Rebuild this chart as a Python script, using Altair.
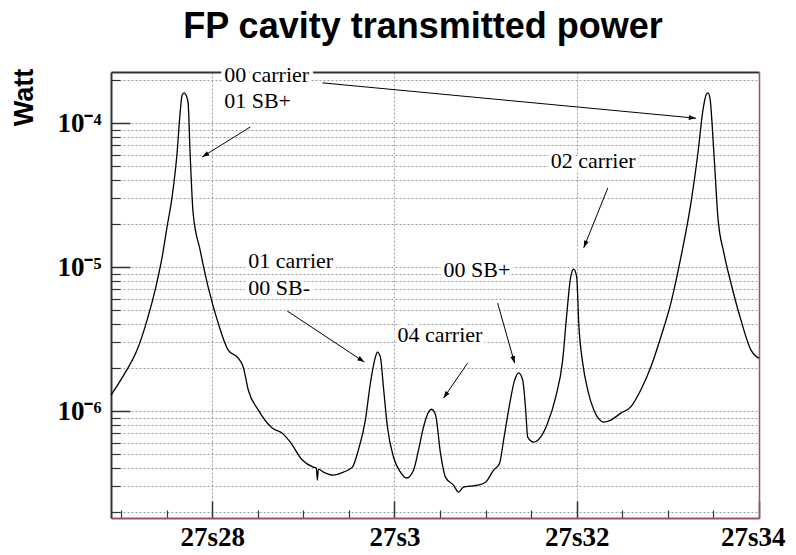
import altair as alt
import pandas as pd

# ---- spectrum (time in s after 27 min, power in W) ----
t_s = [26.89, 27.044, 27.176, 27.286, 27.374, 27.451, 27.505, 27.560, 27.615, 27.648,
       27.670, 27.692, 27.714, 27.736, 27.758, 27.791, 27.868, 27.956, 28.066, 28.176,
       28.286, 28.341, 28.396, 28.505, 28.659, 28.769, 28.857, 28.989, 29.110, 29.143,
       29.154, 29.165, 29.220, 29.330, 29.440, 29.538, 29.604, 29.681, 29.736, 29.791,
       29.813, 29.846, 29.879, 29.923, 29.989, 30.066, 30.132, 30.209, 30.264, 30.319,
       30.374, 30.407, 30.451, 30.505, 30.560, 30.648, 30.703, 30.758, 30.835, 30.912,
       31.000, 31.088, 31.154, 31.198, 31.253, 31.319, 31.363, 31.407, 31.440, 31.462,
       31.527, 31.604, 31.681, 31.769, 31.846, 31.890, 31.934, 31.967, 32.000, 32.022,
       32.066, 32.121, 32.187, 32.297, 32.374, 32.484, 32.593, 32.703, 32.813, 32.923,
       33.033, 33.143, 33.253, 33.330, 33.385, 33.418, 33.440, 33.462, 33.505, 33.549,
       33.615, 33.692, 33.802, 33.912, 33.978, 34.0]
power_w = [1.29e-6, 1.84e-6, 2.65e-6, 4.28e-6, 6.92e-6, 1.17e-5, 1.90e-5, 3.06e-5, 6.19e-5, 1.17e-4,
           1.56e-4, 1.62e-4, 1.56e-4, 1.38e-4, 6.19e-5, 2.37e-5, 1.31e-5, 7.26e-6, 4.08e-6, 2.65e-6,
           2.33e-6, 2.02e-6, 1.40e-6, 1.02e-6, 7.62e-7, 7.03e-7, 6.09e-7, 4.57e-7, 4.08e-7, 4.02e-7,
           3.32e-7, 3.95e-7, 3.77e-7, 3.59e-7, 3.77e-7, 4.08e-7, 5.36e-7, 8.66e-7, 1.56e-6, 2.37e-6,
           2.57e-6, 2.37e-6, 1.47e-6, 7.75e-7, 4.80e-7, 3.77e-7, 3.43e-7, 3.89e-7, 5.36e-7, 7.75e-7,
           9.84e-7, 1.03e-6, 9.38e-7, 5.11e-7, 3.48e-7, 3.06e-7, 2.74e-7, 2.96e-7, 3.01e-7, 3.06e-7,
           3.21e-7, 3.89e-7, 4.35e-7, 6.30e-7, 1.02e-6, 1.64e-6, 1.84e-6, 1.64e-6, 1.02e-6, 6.59e-7,
           6.09e-7, 6.59e-7, 8.26e-7, 1.25e-6, 2.26e-6, 4.64e-6, 8.53e-6, 9.68e-6, 8.53e-6, 4.08e-6,
           2.15e-6, 1.40e-6, 1.02e-6, 8.39e-7, 8.66e-7, 9.68e-7, 1.07e-6, 1.40e-6, 2.02e-6, 3.27e-6,
           5.62e-6, 1.17e-5, 2.78e-5, 6.19e-5, 1.23e-4, 1.56e-4, 1.62e-4, 1.49e-4, 6.19e-5, 2.22e-5,
           1.25e-5, 7.75e-6, 4.28e-6, 2.65e-6, 2.37e-6, 2.33e-6]

# ---- annotations ----
label_text = ["00 carrier", "01 SB+", "01 carrier", "00 SB-", "04 carrier", "00 SB+", "02 carrier"]
label_t = [28.132, 28.132, 28.396, 28.396, 30.033, 30.538, 31.714]
label_p = [1.93e-4, 1.27e-4, 9.84e-6, 6.39e-6, 3.01e-6, 8.53e-6, 4.87e-5]

arrow_t0 = [29.209, 28.418, 28.824, 30.802, 31.132, 32.341]
arrow_p0 = [1.90e-4, 9.38e-5, 4.95e-6, 2.15e-6, 5.62e-6, 3.54e-5]
arrow_t1 = [33.308, 27.890, 29.670, 30.538, 31.319, 32.077]
arrow_p1 = [1.08e-4, 5.81e-5, 2.19e-6, 1.23e-6, 2.15e-6, 1.36e-5]

# ---- ticks ----
x_major = [28, 30, 32, 34]
x_major_labels = ["27s28", "27s3", "27s32", "27s34"]
x_grid = [28, 30, 32]
x_minor = [27, 27.5, 28.5, 29, 29.5, 30.5, 31, 31.5, 32.5, 33, 33.5]
y_decades = [1e-6, 1e-5, 1e-4]
y_decade_labels = ["10\u207b\u2076", "10\u207b\u2075", "10\u207b\u2074"]
y_mantissas = [2, 3, 4, 5, 6, 7, 8, 9]
y_minor = ([m * 1e-7 for m in y_mantissas] + [m * 1e-6 for m in y_mantissas]
           + [m * 1e-5 for m in y_mantissas] + [2e-4])
y_grid = sorted(y_minor + y_decades)

SERIF = "Liberation Serif"
SANS = "Liberation Sans"
GRID = "#9a9a9a"
DARK = "#333333"
RED = "#a0505a"

xs = alt.Scale(domain=[26.89, 34.0], nice=False, zero=False)
ys = alt.Scale(type="log", domain=[1.81e-7, 2.26e-4], nice=False)

curve_df = pd.DataFrame({"t": t_s, "p": power_w})
label_df = pd.DataFrame({"t": label_t, "p": label_p, "txt": label_text})
arrow_df = pd.DataFrame({"x1": arrow_t0, "y1": arrow_p0, "x2": arrow_t1, "y2": arrow_p1})


def guide_layer(xaxis, yaxis):
    return alt.Chart(curve_df).mark_line(opacity=0).encode(
        x=alt.X("t:Q", scale=xs, axis=xaxis),
        y=alt.Y("p:Q", scale=ys, axis=yaxis),
    )


x_label_expr = " : ".join(
    f"datum.value == {v} ? '{s}'" for v, s in zip(x_major, x_major_labels)) + " : ''"
y_label_expr = " : ".join(
    f"abs(datum.value - {v}) < {v / 10} ? '{s}'" for v, s in zip(y_decades, y_decade_labels)) + " : ''"

grid = guide_layer(
    alt.Axis(orient="bottom", values=x_grid, grid=True, gridColor=GRID, gridDash=[2, 2],
             gridWidth=1, ticks=False, labels=False, domain=False, title=None),
    alt.Axis(orient="left", values=y_grid, grid=True, gridColor=GRID, gridDash=[2, 2],
             gridWidth=1, ticks=False, labels=False, domain=False, title=None),
)

minor_ticks = guide_layer(
    alt.Axis(orient="bottom", values=x_minor, grid=False, ticks=True, tickSize=8, offset=-8,
             tickColor=DARK, tickWidth=1.2, labels=False, domain=False, title=None),
    alt.Axis(orient="left", values=y_minor, grid=False, ticks=True, tickSize=9, offset=-9,
             tickColor=DARK, tickWidth=1.2, labels=False, domain=False, title=None),
)

major_ticks = guide_layer(
    alt.Axis(orient="bottom", values=x_major, grid=False, ticks=True, tickSize=17, offset=-17,
             tickColor=DARK, tickWidth=1.5, labels=False, domain=False, title=None),
    alt.Axis(orient="left", values=y_decades, grid=False, ticks=True, tickSize=19, offset=-19,
             tickColor=DARK, tickWidth=1.5, labels=False, domain=False, title=None),
)

label_axes = guide_layer(
    alt.Axis(orient="bottom", values=x_major, grid=False, ticks=False, tickSize=0,
             labelExpr=x_label_expr, labelFont=SERIF, labelFontWeight="bold", labelFontSize=27,
             labelColor="black", labelPadding=27, labelBaseline="alphabetic",
             labelFlush=True, labelFlushOffset=26, labelOverlap=False,
             domain=True, domainColor=RED, domainWidth=2, title=None),
    alt.Axis(orient="left", values=y_decades, grid=False, ticks=False, tickSize=0,
             labelExpr=y_label_expr, labelFont=SERIF, labelFontWeight="bold", labelFontSize=27,
             labelColor="black", labelPadding=10, labelOverlap=False,
             domain=True, domainColor=DARK, domainWidth=2,
             title="Watt", titleFont=SANS, titleFontWeight="bold", titleFontSize=27,
             titleColor="black", titleAngle=270, titleX=-79, titleY=25,
             titleAlign="center", titleBaseline="alphabetic"),
)

frame = guide_layer(
    alt.Axis(orient="top", values=x_major, grid=False, ticks=False, labels=False,
             domain=True, domainColor=DARK, domainWidth=2, title=None),
    alt.Axis(orient="right", values=y_decades, grid=False, ticks=False, labels=False,
             domain=True, domainColor=RED, domainWidth=1.5, title=None),
)

curve = alt.Chart(curve_df).mark_line(
    color="black", strokeWidth=1.3, interpolate="monotone"
).encode(
    x=alt.X("t:Q", scale=xs, axis=None),
    y=alt.Y("p:Q", scale=ys, axis=None),
)

arrow_lines = alt.Chart(arrow_df).mark_rule(color="black", strokeWidth=1).encode(
    x=alt.X("x1:Q", scale=xs, axis=None),
    y=alt.Y("y1:Q", scale=ys, axis=None),
    x2="x2:Q",
    y2="y2:Q",
)

head_angle = ("atan2(scale('x', datum.x2) - scale('x', datum.x1), "
              "scale('y', datum.y1) - scale('y', datum.y2)) * 180 / PI")
arrow_heads = alt.Chart(arrow_df).mark_point(
    shape="M0,0L0.75,2.2L-0.75,2.2Z", filled=True, color="black", size=42, opacity=1,
    angle=alt.ExprRef(head_angle),
).encode(
    x=alt.X("x2:Q", scale=xs, axis=None),
    y=alt.Y("y2:Q", scale=ys, axis=None),
)

halo = alt.Chart(label_df).mark_text(
    align="left", baseline="alphabetic", font=SERIF, fontSize=22,
    fill="white", stroke="white", strokeWidth=8, strokeJoin="round",
).encode(
    x=alt.X("t:Q", scale=xs, axis=None),
    y=alt.Y("p:Q", scale=ys, axis=None),
    text="txt:N",
)

labels = alt.Chart(label_df).mark_text(
    align="left", baseline="alphabetic", font=SERIF, fontSize=22, color="black",
).encode(
    x=alt.X("t:Q", scale=xs, axis=None),
    y=alt.Y("p:Q", scale=ys, axis=None),
    text="txt:N",
)

chart = alt.layer(
    grid, minor_ticks, major_ticks, label_axes, frame,
    curve, arrow_lines, arrow_heads, halo, labels,
).resolve_axis(
    x="independent", y="independent"
).properties(
    width=648,
    height=446,
    autosize=alt.AutoSizeParams(type="none"),
    padding={"left": 103, "top": 64, "right": 29, "bottom": 29},
    title=alt.TitleParams(
        "FP cavity transmitted power", font=SANS, fontSize=36, fontWeight="bold",
        color="black", anchor="middle", dx=-12, offset=-10, baseline="alphabetic",
    ),
    background="white",
).configure_view(stroke=None)

chart.save("out.html", embed_options={"renderer": "svg", "actions": False})
